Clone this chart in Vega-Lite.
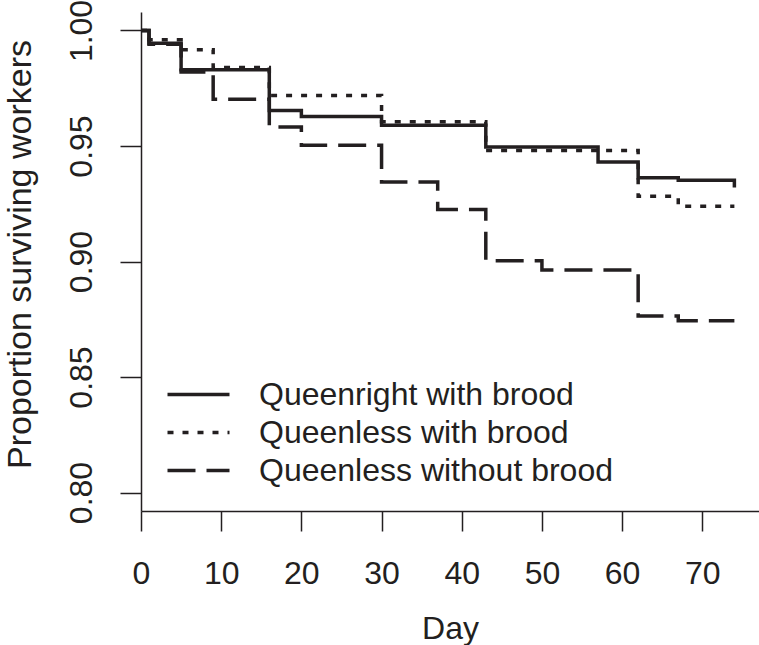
{
  "$schema": "https://vega.github.io/schema/vega-lite/v6.json",
  "autosize": {"type": "none"},
  "padding": {"left": 141, "top": 12, "right": 0, "bottom": 134},
  "width": 618,
  "height": 499,
  "background": "white",
  "config": {
    "view": {"stroke": null},
    "font": "Liberation Sans",
    "axis": {
      "grid": false,
      "domainColor": "#231f20",
      "domainWidth": 1.5,
      "tickColor": "#231f20",
      "tickWidth": 1.5,
      "labelColor": "#231f20",
      "titleColor": "#231f20",
      "labelFont": "Liberation Sans",
      "titleFont": "Liberation Sans",
      "labelFontSize": 32,
      "titleFontSize": 32,
      "titleFontWeight": "normal"
    }
  },
  "data": {
    "values": [
      {"group": "Queenright with brood", "day": 0, "surv": 1.0},
      {"group": "Queenright with brood", "day": 1, "surv": 0.9945},
      {"group": "Queenright with brood", "day": 5, "surv": 0.983},
      {"group": "Queenright with brood", "day": 16, "surv": 0.9654},
      {"group": "Queenright with brood", "day": 20, "surv": 0.9628},
      {"group": "Queenright with brood", "day": 30, "surv": 0.959},
      {"group": "Queenright with brood", "day": 43, "surv": 0.9496},
      {"group": "Queenright with brood", "day": 57, "surv": 0.9431},
      {"group": "Queenright with brood", "day": 62, "surv": 0.9363},
      {"group": "Queenright with brood", "day": 67, "surv": 0.9352},
      {"group": "Queenright with brood", "day": 74, "surv": 0.932},
      {"group": "Queenless with brood", "day": 0, "surv": 1.0},
      {"group": "Queenless with brood", "day": 1, "surv": 0.996},
      {"group": "Queenless with brood", "day": 5, "surv": 0.9917},
      {"group": "Queenless with brood", "day": 9, "surv": 0.984},
      {"group": "Queenless with brood", "day": 16, "surv": 0.9719},
      {"group": "Queenless with brood", "day": 30, "surv": 0.9605},
      {"group": "Queenless with brood", "day": 43, "surv": 0.9481},
      {"group": "Queenless with brood", "day": 62, "surv": 0.9282},
      {"group": "Queenless with brood", "day": 67, "surv": 0.9239},
      {"group": "Queenless with brood", "day": 74, "surv": 0.9239},
      {"group": "Queenless without brood", "day": 0, "surv": 1.0},
      {"group": "Queenless without brood", "day": 1, "surv": 0.994},
      {"group": "Queenless without brood", "day": 5, "surv": 0.982},
      {"group": "Queenless without brood", "day": 9, "surv": 0.9702},
      {"group": "Queenless without brood", "day": 16, "surv": 0.9582},
      {"group": "Queenless without brood", "day": 20, "surv": 0.9503},
      {"group": "Queenless without brood", "day": 30, "surv": 0.9344},
      {"group": "Queenless without brood", "day": 37, "surv": 0.9225},
      {"group": "Queenless without brood", "day": 43, "surv": 0.9003},
      {"group": "Queenless without brood", "day": 50, "surv": 0.8963},
      {"group": "Queenless without brood", "day": 62, "surv": 0.8764},
      {"group": "Queenless without brood", "day": 67, "surv": 0.8744},
      {"group": "Queenless without brood", "day": 74, "surv": 0.8744}
    ]
  },
  "mark": {"type": "line", "interpolate": "step-after", "strokeWidth": 3.5, "color": "#231f20", "strokeCap": "butt", "clip": false},
  "encoding": {
    "x": {
      "field": "day", "type": "quantitative",
      "scale": {"domain": [0, 77.07], "nice": false, "zero": false},
      "axis": {
        "values": [0, 10, 20, 30, 40, 50, 60, 70],
        "tickSize": 20,
        "labelPadding": 27,
        "labelBaseline": "top",
        "labelFlush": false,
        "title": "Day",
        "titleX": 309,
        "titleY": 127,
        "titleBaseline": "alphabetic",
        "titleAlign": "center"
      }
    },
    "y": {
      "field": "surv", "type": "quantitative",
      "scale": {"domain": [0.792, 1.008], "nice": false, "zero": false},
      "axis": {
        "values": [0.8, 0.85, 0.9, 0.95, 1.0],
        "format": ".2f",
        "tickSize": 21,
        "labelPadding": 29,
        "labelAngle": -90,
        "labelAlign": "center",
        "labelBaseline": "alphabetic",
        "labelFlush": false,
        "title": "Proportion surviving workers",
        "titleFontSize": 34,
        "titleAngle": -90,
        "titleX": -111,
        "titleY": 242,
        "titleAlign": "center",
        "titleBaseline": "alphabetic"
      }
    },
    "strokeDash": {
      "field": "group", "type": "nominal",
      "scale": {
        "domain": ["Queenright with brood", "Queenless with brood", "Queenless without brood"],
        "range": [[1, 0], [6, 9], [28, 11]]
      },
      "legend": {
        "title": null,
        "orient": "none",
        "legendX": 40,
        "legendY": 365,
        "padding": 0,
        "symbolType": "M-2,0H2",
        "symbolSize": 961,
        "symbolStrokeWidth": 3.5,
        "symbolStrokeColor": "#231f20",
        "symbolFillColor": "transparent",
        "labelFontSize": 32,
        "labelFont": "Liberation Sans",
        "labelColor": "#231f20",
        "labelOffset": 43,
        "rowPadding": 4,
        "labelLimit": 600
      }
    }
  }
}
